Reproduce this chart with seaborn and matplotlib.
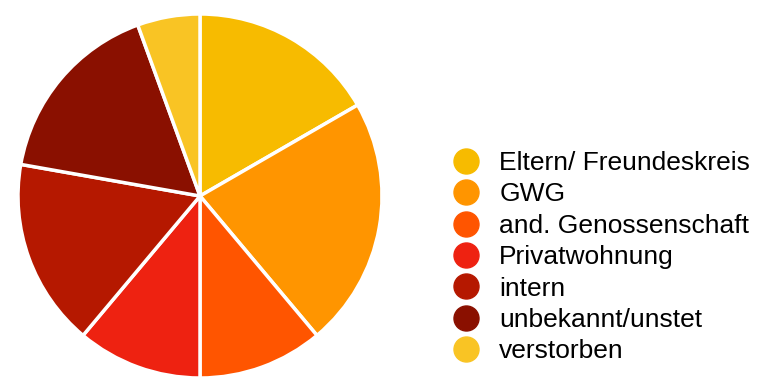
import matplotlib
matplotlib.use('Agg')
import matplotlib.pyplot as plt
from matplotlib.lines import Line2D
import seaborn as sns

# Wohnsituation - Anteile
labels = ['Eltern/ Freundeskreis', 'GWG', 'and. Genossenschaft', 'Privatwohnung',
          'intern', 'unbekannt/unstet', 'verstorben']
counts = [3, 4, 2, 2, 3, 3, 1]
colors = ['#F7BB00', '#FF9500', '#FF5500', '#EE2211', '#B51800', '#8A1000', '#F9C424']

sns.set_theme(style='white')
plt.rcParams['font.family'] = ['Liberation Sans', 'DejaVu Sans']

fig = plt.figure(figsize=(7.67, 3.78), dpi=100)
ax = fig.add_axes([18 / 767, 0, 364 / 767, 364 / 378])

ax.pie(counts, colors=colors, startangle=90, counterclock=False,
       wedgeprops=dict(edgecolor='white', linewidth=2.5))
ax.set_xlim(-1, 1)
ax.set_ylim(-1, 1)
ax.set_aspect('equal')

handles = [Line2D([0], [0], marker='o', linestyle='', markersize=18,
                  markerfacecolor=c, markeredgecolor=c) for c in colors]
fig.legend(handles, labels, loc='upper left', bbox_to_anchor=(453 / 767, 1 - 151 / 378),
           frameon=False, fontsize=19, labelspacing=0.28, handletextpad=0.75,
           handlelength=1.0, borderaxespad=0, borderpad=0, labelcolor='black')

fig.savefig('out.png', dpi=100)
